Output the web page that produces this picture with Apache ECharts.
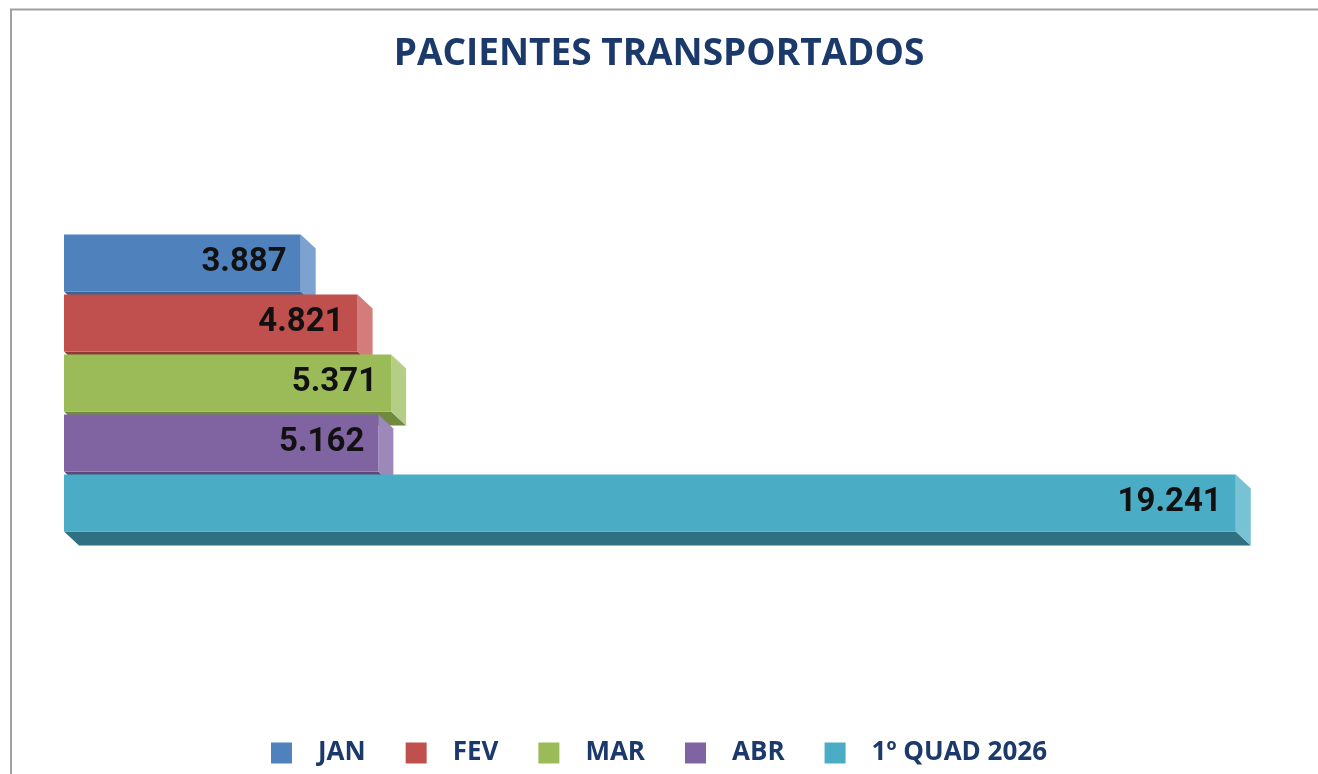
<!DOCTYPE html>
<html>
<head>
<meta charset="utf-8">
<script src="https://cdn.jsdelivr.net/npm/echarts@6/dist/echarts.min.js"></script>
<style>html,body{margin:0;padding:0;background:#fff;}#c{width:1318px;height:774px;}</style>
</head>
<body>
<div id="c"></div>
<script>
var categories = ['JAN', 'FEV', 'MAR', 'ABR', '1º QUAD 2026'];
var values = [3887, 4821, 5371, 5162, 19241];
var titleText = 'PACIENTES TRANSPORTADOS';
var frontColors = ['#4F81BD', '#C0504D', '#9BBB59', '#8064A2', '#4BACC6'];
var sideColors = ['#7CA2D0', '#D47C7A', '#B5CE85', '#9D88BA', '#78C2D6'];
var bottomColors = ['#3B6394', '#8F3A38', '#728A40', '#5D4878', '#2F7083'];

function fmt(v) { return String(v).replace(/\B(?=(\d{3})+(?!\d))/g, '.'); }

var DX = 15, DY = 14;

function makeRender(i) {
  return function (params, api) {
    var v = api.value(0);
    var c = api.value(1);
    var p0 = api.coord([0, c]);
    var p1 = api.coord([v, c]);
    var band = api.size([0, 1])[1];
    var h = band * 0.95;
    var top = p0[1] - h / 2, bot = p0[1] + h / 2;
    var x0 = p0[0], x1 = p1[0];
    return {
      type: 'group',
      children: [
        { type: 'polygon', shape: { points: [[x0, bot], [x1, bot], [x1 + DX, bot + DY], [x0 + DX, bot + DY]] }, style: { fill: bottomColors[i] } },
        { type: 'polygon', shape: { points: [[x1, top], [x1 + DX, top + DY], [x1 + DX, bot + DY], [x1, bot]] }, style: { fill: sideColors[i] } },
        { type: 'rect', shape: { x: x0, y: top, width: x1 - x0, height: h }, style: { fill: frontColors[i] } },
        { type: 'text', style: { text: fmt(v), x: x1 - 14, y: p0[1], align: 'right', verticalAlign: 'middle', font: 'bold 33px Roboto', fill: '#111111' } }
      ]
    };
  };
}

var series = categories.map(function (name, i) {
  return {
    name: name,
    type: 'custom',
    renderItem: makeRender(i),
    itemStyle: { color: frontColors[i], borderWidth: 0 },
    encode: { x: 0, y: 1 },
    data: [[values[i], name]]
  };
});

var chart = echarts.init(document.getElementById('c'), null, { renderer: 'canvas' });
chart.setOption({
  animation: false,
  backgroundColor: '#ffffff',
  color: frontColors,
  title: {
    text: titleText,
    left: 'center',
    top: 31,
    textStyle: { fontFamily: 'Open Sans', fontWeight: 'bold', fontSize: 37, color: '#1B3A6B' }
  },
  legend: {
    data: categories.map(function (n) { return { name: n, icon: 'rect' }; }),
    top: 735,
    left: 'center',
    itemWidth: 21,
    itemHeight: 21,
    itemGap: 40,
    itemStyle: { borderWidth: 0 },
    textStyle: { fontFamily: 'Open Sans', fontWeight: 'bold', fontSize: 26, color: '#1B3A6B', padding: [0, 0, 0, 21] }
  },
  grid: { left: 64, right: 36, top: 233, height: 300 },
  xAxis: { type: 'value', min: 0, max: 20000, show: false },
  yAxis: { type: 'category', data: categories, inverse: true, show: false },
  graphic: [
    { type: 'rect', shape: { x: 11, y: 9.5, width: 1400, height: 1000 }, style: { fill: 'none', stroke: '#A0A0A0', lineWidth: 2 }, z: 100 }
  ],
  series: series
});
</script>
</body>
</html>
